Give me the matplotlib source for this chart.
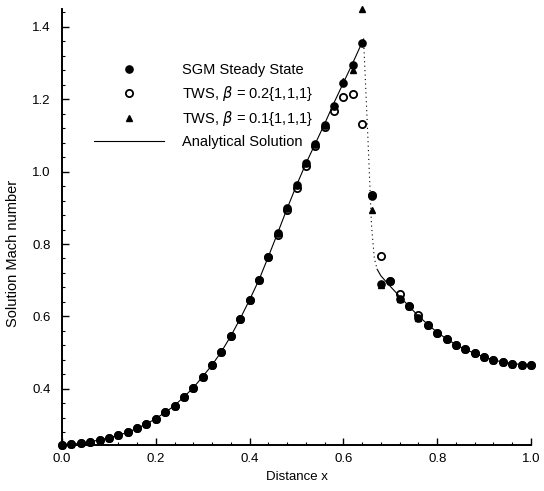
import numpy as np
import matplotlib
matplotlib.use("Agg")
import matplotlib.pyplot as plt
from matplotlib.ticker import MultipleLocator

plt.rcParams['font.family'] = ['Liberation Sans', 'DejaVu Sans']

# grid of the numerical solutions (dx = 0.02)
x_grid = np.linspace(0.0, 1.0, 51)

sgm_mach = [0.245, 0.247, 0.250, 0.254, 0.259, 0.265, 0.272, 0.280, 0.291, 0.303,
            0.318, 0.335, 0.354, 0.378, 0.403, 0.434, 0.466, 0.503, 0.546, 0.594,
            0.646, 0.701, 0.765, 0.831, 0.900, 0.964, 1.024, 1.077, 1.129, 1.180,
            1.245, 1.295, 1.355, 0.932, 0.689, 0.697, 0.648, 0.629, 0.596, 0.577,
            0.555, 0.537, 0.522, 0.509, 0.498, 0.488, 0.479, 0.474, 0.469, 0.466, 0.467]

tws02_mach = [0.245, 0.247, 0.250, 0.254, 0.259, 0.265, 0.272, 0.280, 0.291, 0.303,
              0.318, 0.335, 0.354, 0.378, 0.403, 0.434, 0.466, 0.503, 0.546, 0.594,
              0.646, 0.701, 0.765, 0.825, 0.893, 0.955, 1.015, 1.070, 1.122, 1.168,
              1.207, 1.214, 1.131, 0.935, 0.766, 0.697, 0.663, 0.630, 0.603, 0.577,
              0.555, 0.537, 0.522, 0.509, 0.498, 0.488, 0.479, 0.474, 0.469, 0.466, 0.467]

tws01_mach = [0.245, 0.247, 0.250, 0.254, 0.259, 0.265, 0.272, 0.280, 0.291, 0.303,
              0.318, 0.335, 0.354, 0.378, 0.403, 0.434, 0.466, 0.503, 0.546, 0.594,
              0.646, 0.701, 0.765, 0.831, 0.900, 0.964, 1.024, 1.077, 1.129, 1.180,
              1.250, 1.281, 1.449, 0.893, 0.688, 0.697, 0.648, 0.629, 0.596, 0.577,
              0.555, 0.537, 0.522, 0.509, 0.498, 0.488, 0.479, 0.474, 0.469, 0.466, 0.467]

# analytical solution: supersonic branch, shock, subsonic branch
anal_x_pre = [0.00, 0.02, 0.04, 0.06, 0.08, 0.10, 0.12, 0.14, 0.16, 0.18,
              0.20, 0.22, 0.24, 0.26, 0.28, 0.30, 0.32, 0.34, 0.36, 0.38,
              0.40, 0.42, 0.44, 0.46, 0.48, 0.50, 0.52, 0.54, 0.56, 0.58,
              0.60, 0.62, 0.64, 0.643]
anal_m_pre = [0.245, 0.247, 0.250, 0.254, 0.259, 0.265, 0.272, 0.280, 0.291, 0.303,
              0.318, 0.335, 0.354, 0.378, 0.403, 0.434, 0.466, 0.503, 0.546, 0.594,
              0.646, 0.701, 0.765, 0.831, 0.898, 0.962, 1.022, 1.077, 1.132, 1.190,
              1.245, 1.300, 1.357, 1.366]
shock_x = [0.643, 0.652, 0.660, 0.666, 0.672]
shock_m = [1.366, 1.100, 0.850, 0.760, 0.730]
anal_x_post = [0.672, 0.68, 0.70, 0.72, 0.74, 0.76, 0.78, 0.80, 0.82, 0.84,
               0.86, 0.88, 0.90, 0.92, 0.94, 0.96, 0.98, 1.00]
anal_m_post = [0.730, 0.712, 0.683, 0.655, 0.628, 0.601, 0.578, 0.556, 0.538, 0.522,
               0.509, 0.498, 0.488, 0.480, 0.474, 0.470, 0.467, 0.466]

fig = plt.figure(figsize=(5.44, 4.91), dpi=100)
ax = fig.add_axes([62 / 544, 46 / 491, 469 / 544, 436.4 / 491])

# analytical curve, shock drawn dotted
ax.plot(anal_x_pre, anal_m_pre, color='black', lw=0.8)
ax.plot(shock_x, shock_m, color='black', lw=0.8, ls=(0, (1, 3)))
ax.plot(anal_x_post, anal_m_post, color='black', lw=0.8,
        label='Analytical Solution')

ax.plot(x_grid, sgm_mach, 'o', color='black', ms=5.2, clip_on=False,
        label='SGM Steady State')
ax.plot(x_grid, tws02_mach, 'o', mfc='none', mec='black', mew=1.3, ms=5.2,
        clip_on=False, label=r'TWS, $\beta$ = 0.2{1,1,1}')
ax.plot(x_grid, tws01_mach, '^', color='black', ms=4.5, clip_on=False,
        label=r'TWS, $\beta$ = 0.1{1,1,1}')

ax.set_xlim(0.0, 1.0)
ax.set_ylim(0.245, 1.45)

ax.spines['top'].set_visible(False)
ax.spines['right'].set_visible(False)
for s in ('left', 'bottom'):
    ax.spines[s].set_linewidth(1.4)

ax.xaxis.set_major_locator(MultipleLocator(0.2))
ax.xaxis.set_minor_locator(MultipleLocator(0.04))
ax.yaxis.set_major_locator(MultipleLocator(0.2))
ax.yaxis.set_minor_locator(MultipleLocator(0.04))
ax.xaxis.set_major_formatter(plt.FormatStrFormatter('%.1f'))
ax.yaxis.set_major_formatter(plt.FormatStrFormatter('%.1f'))
ax.tick_params(which='major', direction='in', length=5, width=1, labelsize=9.5, pad=6)
ax.tick_params(which='minor', direction='in', length=2.5, width=0.8)
ax.tick_params(axis='y', which='major', pad=8)

ax.set_xlabel('Distance x', fontsize=9.5)
ax.set_ylabel('Solution Mach number', fontsize=10.5)
ax.yaxis.set_label_coords(-0.09, 0.44)

handles, labels = ax.get_legend_handles_labels()
order = [1, 2, 3, 0]
ax.legend([handles[i] for i in order], [labels[i] for i in order],
          loc='upper left', bbox_to_anchor=(87 / 544, 1 - 56 / 491),
          bbox_transform=fig.transFigure, frameon=False, fontsize=10.5,
          handlelength=4.8, handletextpad=1.2, labelspacing=0.45,
          borderpad=0, numpoints=1)

fig.savefig('out.png', dpi=100)
